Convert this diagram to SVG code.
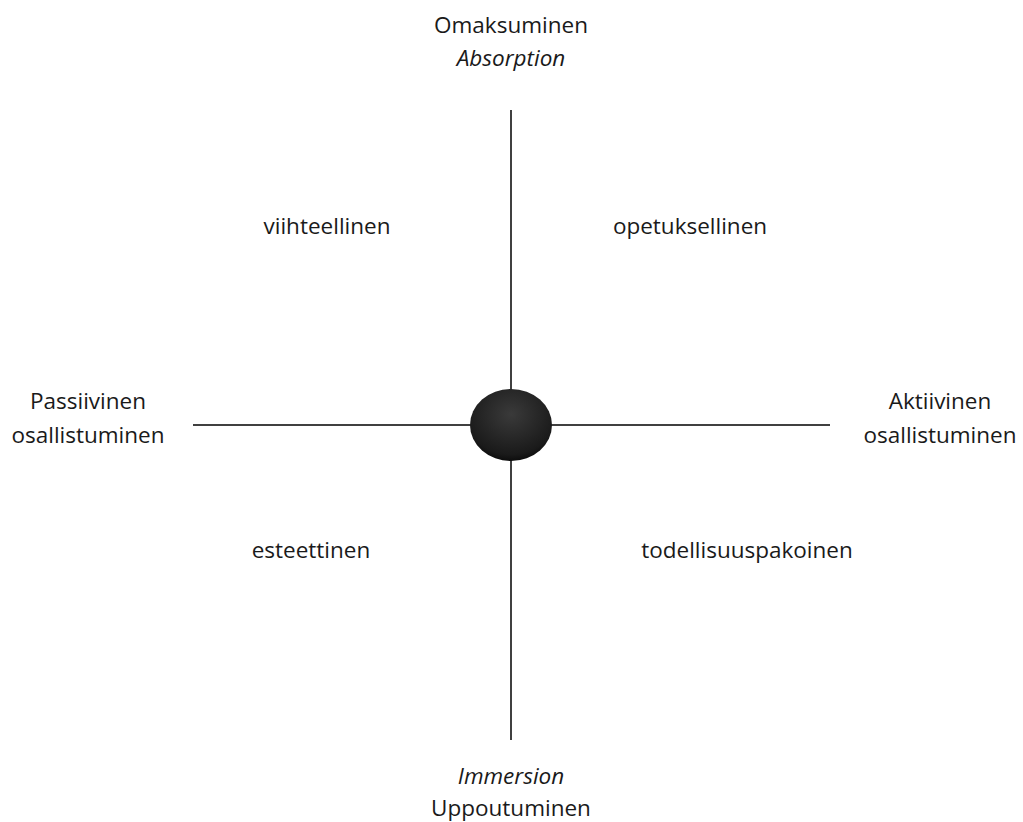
<svg xmlns="http://www.w3.org/2000/svg" width="1023" height="822" viewBox="0 0 1023 822">
<style>
text{font-family:"Open Sans","Liberation Sans",sans-serif;font-size:22.5px;fill:#1a1a1a;text-anchor:middle}
.it{font-style:italic}
.ax{stroke:#000;stroke-width:1.5;fill:none}
</style>
<defs>
<radialGradient id="g" cx="0.5" cy="0.35" r="0.7">
<stop offset="0" stop-color="#3a3a3a"/>
<stop offset="0.8" stop-color="#1a1a1a"/>
<stop offset="1" stop-color="#050505"/>
</radialGradient>
</defs>
<rect width="1023" height="822" fill="#fff"/>
<g id="connectors">
<line class="ax" x1="511" y1="110" x2="511" y2="740"/>
<line class="ax" x1="193" y1="425" x2="830" y2="425"/>
</g>
<g id="center"><ellipse cx="511" cy="425" rx="41" ry="36" fill="url(#g)"/></g>
<g id="top"><text x="511" y="33">Omaksuminen</text><text class="it" x="511" y="66">Absorption</text></g>
<g id="bottom"><text class="it" x="511" y="784">Immersion</text><text x="511" y="816">Uppoutuminen</text></g>
<g id="left"><text x="88" y="409">Passiivinen</text><text x="88" y="443">osallistuminen</text></g>
<g id="right"><text x="940" y="409">Aktiivinen</text><text x="940" y="443">osallistuminen</text></g>
<g id="q1"><text x="327" y="234">viihteellinen</text></g>
<g id="q2"><text x="690" y="234">opetuksellinen</text></g>
<g id="q3"><text x="311" y="558">esteettinen</text></g>
<g id="q4"><text x="747" y="558">todellisuuspakoinen</text></g>
</svg>
